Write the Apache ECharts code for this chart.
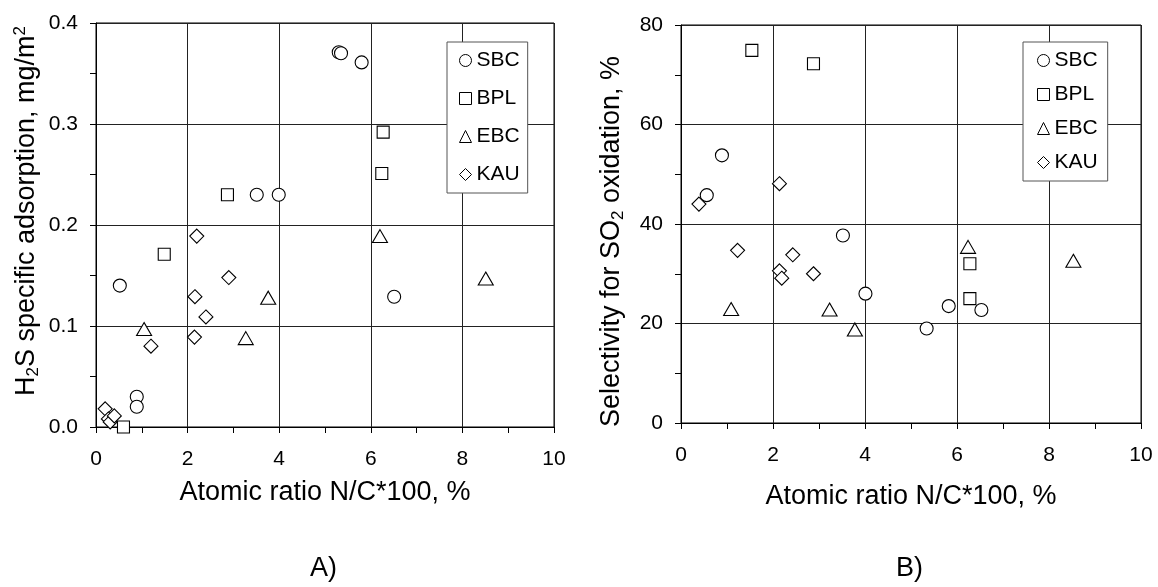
<!DOCTYPE html>
<html>
<head>
<meta charset="utf-8">
<script src="https://cdn.jsdelivr.net/npm/echarts@6/dist/echarts.min.js"></script>
<style>
html,body{margin:0;padding:0;background:#fff;}
#c{width:1158px;height:587px;}
</style>
</head>
<body>
<div id="c"></div>
<script>
// ---- Data (A: H2S specific adsorption) ----
const seriesNames = ['SBC', 'BPL', 'EBC', 'KAU'];
const xTicks = [0, 2, 4, 6, 8, 10];

const aSBC = [[5.30, 0.371], [5.35, 0.370], [5.80, 0.361], [3.51, 0.230], [3.99, 0.230], [0.52, 0.140], [0.89, 0.030], [0.89, 0.020], [6.51, 0.129]];
const aBPL = [[2.87, 0.230], [1.49, 0.171], [0.60, 0.000], [6.27, 0.292], [6.24, 0.251]];
const aEBC = [[6.20, 0.189], [8.51, 0.147], [1.05, 0.097], [3.76, 0.128], [3.27, 0.088]];
const aKAU = [[2.20, 0.189], [2.90, 0.148], [2.16, 0.129], [2.40, 0.109], [2.15, 0.089], [1.20, 0.080], [0.20, 0.018], [0.27, 0.008], [0.31, 0.005], [0.40, 0.011]];

// ---- Data (B: Selectivity for SO2 oxidation) ----
const bSBC = [[0.89, 53.8], [0.56, 45.8], [3.52, 37.7], [4.01, 26.0], [5.82, 23.5], [5.34, 19.0], [6.53, 22.7]];
const bBPL = [[1.54, 74.9], [2.88, 72.2], [6.28, 32.0], [6.28, 25.0]];
const bEBC = [[6.24, 35.4], [8.53, 32.6], [1.09, 22.9], [3.23, 22.8], [3.78, 18.8]];
const bKAU = [[0.39, 44.0], [2.14, 48.1], [1.23, 34.7], [2.43, 33.8], [2.14, 30.6], [2.19, 29.1], [2.88, 30.0]];

const symbols = {SBC: 'circle', BPL: 'rect', EBC: 'triangle', KAU: 'diamond'};
const sizes = {SBC: 13, BPL: 12, EBC: [15, 13], KAU: 14};

const FONT = 'Liberation Sans, Arial, sans-serif';
const chart = echarts.init(document.getElementById('c'), null, {renderer: 'canvas'});

function xAxis(gridIndex, name, nameGap) {
  return {
    gridIndex, type: 'value', min: 0, max: 10, interval: 2,
    name, nameLocation: 'middle', nameGap,
    nameTextStyle: {fontFamily: FONT, fontSize: 27, color: '#000'},
    axisLine: {show: true, lineStyle: {color: '#000', width: 1}},
    axisTick: {show: true, inside: false, length: 6, lineStyle: {color: '#000'}},
    minorTick: {show: true, splitNumber: 2, length: 6, lineStyle: {color: '#000'}},
    axisLabel: {fontFamily: FONT, fontSize: 21, color: '#000', margin: 22},
    splitLine: {show: true, lineStyle: {color: '#222', width: 1}}
  };
}
function yAxis(gridIndex, max, interval, name, nameGap, pad, fmt) {
  return {
    gridIndex, type: 'value', min: 0, max, interval,
    name, nameLocation: 'middle', nameGap, nameRotate: 90,
    nameTextStyle: {
      fontFamily: FONT, fontSize: 27, color: '#000', padding: pad,
      rich: {
        n: {fontFamily: FONT, fontSize: 27, color: '#000', lineHeight: 30},
        sub: {fontFamily: FONT, fontSize: 17, color: '#000', lineHeight: 30, verticalAlign: 'bottom'},
        sup: {fontFamily: FONT, fontSize: 17, color: '#000', lineHeight: 30, verticalAlign: 'top'}
      }
    },
    axisLine: {show: true, lineStyle: {color: '#000', width: 1}},
    axisTick: {show: true, inside: false, length: 6, lineStyle: {color: '#000'}},
    minorTick: {show: true, splitNumber: 2, length: 6, lineStyle: {color: '#000'}},
    axisLabel: {fontFamily: FONT, fontSize: 21, color: '#000', margin: 18, formatter: fmt},
    splitLine: {show: true, lineStyle: {color: '#222', width: 1}}
  };
}

function mkSeries(name, data, gi) {
  return {
    name, type: 'scatter', data, xAxisIndex: gi, yAxisIndex: gi,
    symbol: symbols[name], symbolSize: sizes[name],
    itemStyle: {color: '#fff', borderColor: '#000', borderWidth: 1.1, opacity: 1},
    emphasis: {disabled: true}, animation: false
  };
}

function legend(left, top, gap, padding) {
  return {
    orient: 'vertical', left, top, itemGap: gap, padding,
    itemWidth: 12, itemHeight: 12,
    backgroundColor: '#fff', borderColor: '#555', borderWidth: 1, borderRadius: 0,
    textStyle: {fontFamily: FONT, fontSize: 21, color: '#000'},
    data: seriesNames.map(n => ({name: n, icon: symbols[n]})),
    selectedMode: false,
    itemStyle: {color: '#fff', borderColor: '#000', borderWidth: 1}
  };
}

chart.setOption({
  animation: false,
  backgroundColor: '#fff',
  grid: [
    {left: 96, top: 23, width: 458, height: 404, show: true, borderColor: '#000', borderWidth: 1, backgroundColor: 'transparent'},
    {left: 681, top: 25, width: 460, height: 398, show: true, borderColor: '#000', borderWidth: 1, backgroundColor: 'transparent'}
  ],
  xAxis: [
    xAxis(0, 'Atomic ratio N/C*100, %', 52),
    xAxis(1, 'Atomic ratio N/C*100, %', 60)
  ],
  yAxis: [
    yAxis(0, 0.4, 0.1, '{n|H}{sub|2}{n|S specific adsorption, mg/m}{sup|2}', 54, [0, 0, 0, 28], v => v.toFixed(1)),
    yAxis(1, 80, 20, '{n|Selectivity for SO}{sub|2}{n| oxidation, %}', 54, [0, 35, 0, 0], v => String(v))
  ],
  legend: [
    legend(447, 42, 17, [8, 8, 8, 12]),
    legend(1023, 42, 13, [8, 10, 8, 14])
  ],
  series: [
    mkSeries('SBC', aSBC, 0), mkSeries('BPL', aBPL, 0), mkSeries('EBC', aEBC, 0), mkSeries('KAU', aKAU, 0),
    mkSeries('SBC', bSBC, 1), mkSeries('BPL', bBPL, 1), mkSeries('EBC', bEBC, 1), mkSeries('KAU', bKAU, 1)
  ],
  graphic: [
    {type: 'text', left: 310, top: 555, style: {text: 'A)', font: '27px ' + FONT, fill: '#000'}},
    {type: 'text', left: 896, top: 555, style: {text: 'B)', font: '27px ' + FONT, fill: '#000'}}
  ]
});
</script>
</body>
</html>
